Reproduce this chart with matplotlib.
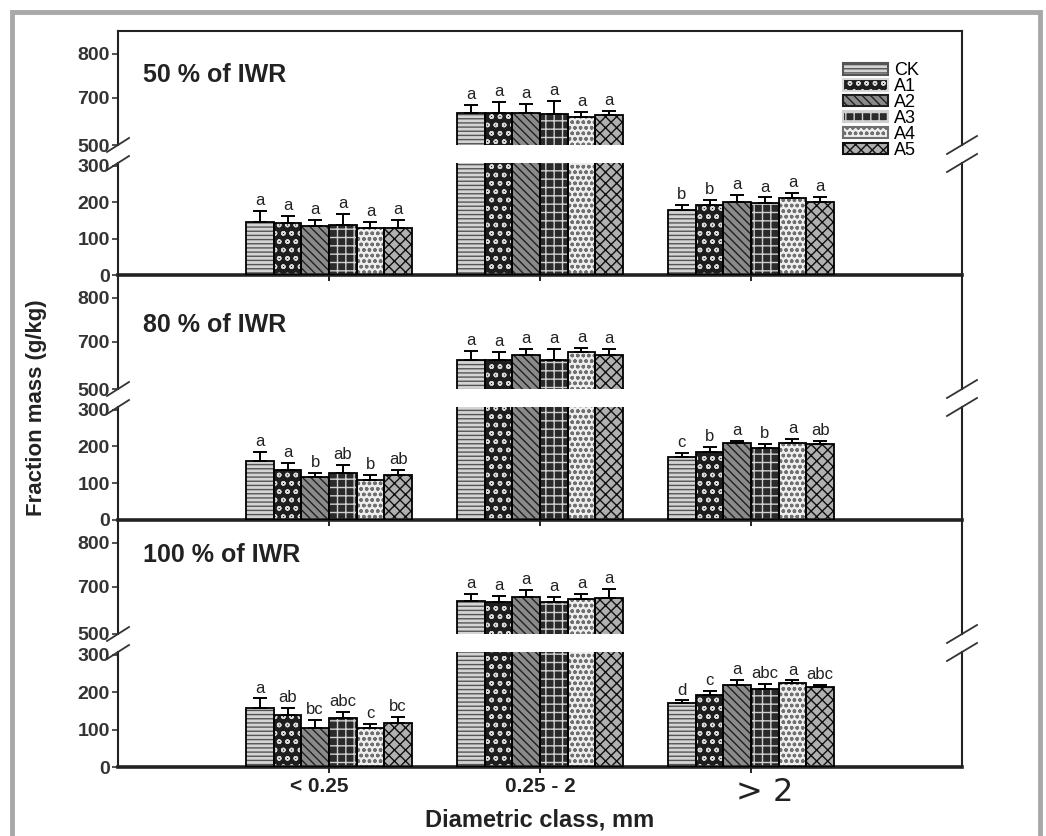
import matplotlib
matplotlib.use('Agg')
import matplotlib.pyplot as plt
from matplotlib.patches import Patch, Rectangle
from matplotlib.lines import Line2D
from matplotlib.transforms import ScaledTranslation
import numpy as np

plt.rcParams['font.family'] = ['Liberation Sans', 'DejaVu Sans']
plt.rcParams['hatch.linewidth'] = 1.0

groups = ['< 0.25', '0.25 - 2', '> 2']
treatments = ['CK', 'A1', 'A2', 'A3', 'A4', 'A5']

# mean fraction mass (g/kg), rows = diameter class, cols = treatment
iwr50_mean = [[145, 142, 134, 137, 130, 130],
              [666, 666, 665, 664, 657, 661],
              [178, 192, 200, 197, 211, 200]]
iwr50_err = [[30, 20, 18, 30, 15, 20],
             [18, 25, 22, 30, 12, 10],
             [14, 13, 19, 16, 14, 14]]
iwr50_sig = [['a', 'a', 'a', 'a', 'a', 'a'],
             ['a', 'a', 'a', 'a', 'a', 'a'],
             ['b', 'b', 'a', 'a', 'a', 'a']]

iwr80_mean = [[160, 137, 117, 128, 110, 122],
              [659, 659, 670, 659, 677, 670],
              [172, 186, 209, 196, 210, 206]]
iwr80_err = [[25, 18, 12, 22, 12, 15],
             [20, 18, 15, 25, 10, 15],
             [10, 12, 5, 10, 10, 8]]
iwr80_sig = [['a', 'a', 'b', 'ab', 'b', 'ab'],
             ['a', 'a', 'a', 'a', 'a', 'a'],
             ['c', 'b', 'a', 'b', 'a', 'ab']]

iwr100_mean = [[158, 140, 105, 130, 103, 117],
               [667, 665, 678, 665, 673, 675],
               [170, 193, 220, 208, 225, 213]]
iwr100_err = [[25, 17, 20, 17, 13, 17],
              [18, 15, 15, 12, 12, 20],
              [8, 10, 12, 14, 6, 6]]
iwr100_sig = [['a', 'ab', 'bc', 'abc', 'c', 'bc'],
              ['a', 'a', 'a', 'a', 'a', 'a'],
              ['d', 'c', 'a', 'abc', 'a', 'abc']]

panel_titles = ['50 % of IWR', '80 % of IWR', '100 % of IWR']
panels = [(iwr50_mean, iwr50_err, iwr50_sig),
          (iwr80_mean, iwr80_err, iwr80_sig),
          (iwr100_mean, iwr100_err, iwr100_sig)]

# fill, hatch, hatch colour for each treatment
styles = [('#d4d4d4', '----', '#555555'),
          ('#1e1e1e', 'oo', '#d8d8d8'),
          ('#8a8a8a', '\\\\\\\\', '#202020'),
          ('#2a2a2a', '++', '#d0d0d0'),
          ('#eeeeee', 'ooo', '#707070'),
          ('#b0b0b0', 'xxx', '#101010')]

W, H = 1046, 836
fig = plt.figure(figsize=(W / 100, H / 100), dpi=100)


def fx(x):
    return x / W


def fy(y):
    return 1 - y / H


left, right = 118, 962
tops = [31, 275, 520]
bases = [275, 520, 767]
title_y = [0.61, 0.56, 0.69]

bw = 0.131
xc = np.arange(len(groups))


def draw_bars(ax, mean, err, sig, upper):
    for i, (fc, hatch, hc) in enumerate(styles):
        xs = xc + (i - 2.5) * bw
        vals = [mean[g][i] for g in range(3)]
        errs = [err[g][i] for g in range(3)]
        ax.bar(xs, vals, bw, color=fc, hatch=hatch, edgecolor=hc, linewidth=0, zorder=2)
        ax.bar(xs, vals, bw, fill=False, edgecolor='black', linewidth=1.3, zorder=3)
        ax.errorbar(xs, vals, yerr=[np.zeros(3), errs], fmt='none', ecolor='black',
                    elinewidth=1.4, capsize=5, capthick=1.4, zorder=4)
        for g in range(3):
            if (vals[g] > 400) == upper:
                ax.annotate(sig[g][i], (xs[g], vals[g] + errs[g]), xytext=(0, 2),
                            textcoords='offset points', ha='center', va='bottom',
                            fontsize=12, color='#222222', annotation_clip=False)


for k, (mean, err, sig) in enumerate(panels):
    T, B = tops[k], bases[k]
    ax_up = fig.add_axes([fx(left), fy(T + 114), fx(right - left), 114 / H])
    ax_lo = fig.add_axes([fx(left), fy(B), fx(right - left), (B - T - 132) / H])

    draw_bars(ax_up, mean, err, sig, True)
    draw_bars(ax_lo, mean, err, sig, False)

    for ax in (ax_up, ax_lo):
        ax.set_xlim(-1, 3)
        ax.patch.set_alpha(0)
        for s in ax.spines.values():
            s.set_linewidth(1.5)
            s.set_color('#222222')
        ax.tick_params(axis='y', direction='out', length=4, width=1.2,
                       labelsize=14, colors='#333333', pad=2)

    ax_up.set_ylim(593, 852)
    ax_up.set_yticks([593, 700, 800], ['500', '700', '800'], fontweight='bold')
    ax_up.spines['bottom'].set_visible(False)
    ax_up.set_xticks([])
    if k > 0:
        ax_up.spines['top'].set_visible(False)

    ax_lo.set_ylim(0, 307)
    ax_lo.set_yticks([0, 100, 200, 300], ['0', '100', '200', '300'], fontweight='bold')
    ax_lo.spines['top'].set_visible(False)
    ax_lo.spines['bottom'].set_linewidth(2.6)
    ax_lo.set_xticks(xc)
    ax_lo.tick_params(axis='x', direction='out', length=4, width=1.2)
    if k < 2:
        ax_lo.set_xticklabels([])
    else:
        ax_lo.set_xticklabels(groups, fontsize=15, fontweight='bold', color='#222222')
        labs = ax_lo.get_xticklabels()
        labs[0].set_transform(labs[0].get_transform()
                              + ScaledTranslation(-0.1, 0, fig.dpi_scale_trans))
        labs[2].set_fontweight('normal')
        labs[2].set_fontsize(23)
        labs[2].set_family('DejaVu Sans')
        labs[2].set_transform(labs[2].get_transform()
                              + ScaledTranslation(0.14, 0, fig.dpi_scale_trans))
        ax_lo.set_xlabel('Diametric class, mm', fontsize=17, fontweight='bold',
                         color='#222222', labelpad=0)

    ax_up.text(0.03, title_y[k], panel_titles[k], transform=ax_up.transAxes,
               fontsize=18, fontweight='bold', color='#222222', va='center')

    # axis break marks on both spines
    for yb in (T + 114, T + 132):
        fig.add_artist(Line2D([fx(left - 11), fx(left + 11)], [fy(yb + 7), fy(yb - 7)],
                              color='#333333', lw=1.3))
        fig.add_artist(Line2D([fx(right - 15), fx(right + 15)], [fy(yb + 9), fy(yb - 9)],
                              color='#333333', lw=1.3))

fig.text(fx(37), fy(408), 'Fraction mass (g/kg)', rotation=90, ha='center', va='center',
         fontsize=16, fontweight='bold', color='#222222')

handles = [Patch(facecolor=fc, hatch=h, edgecolor=hc) for fc, h, hc in styles]
leg = fig.legend(handles, treatments, loc='upper left', bbox_to_anchor=(fx(836), fy(55)),
                 frameon=False, fontsize=13, handlelength=2.5, handleheight=0.6,
                 labelspacing=-0.06, handletextpad=0.3, borderaxespad=0)
for p in leg.get_patches():
    p.set_linewidth(1.5)

fig.add_artist(Rectangle((fx(12), fy(845)), fx(1028), 833 / H, transform=fig.transFigure,
                         fill=False, edgecolor='#a8a8a8', lw=3.5))

fig.savefig('out.png', dpi=100)
